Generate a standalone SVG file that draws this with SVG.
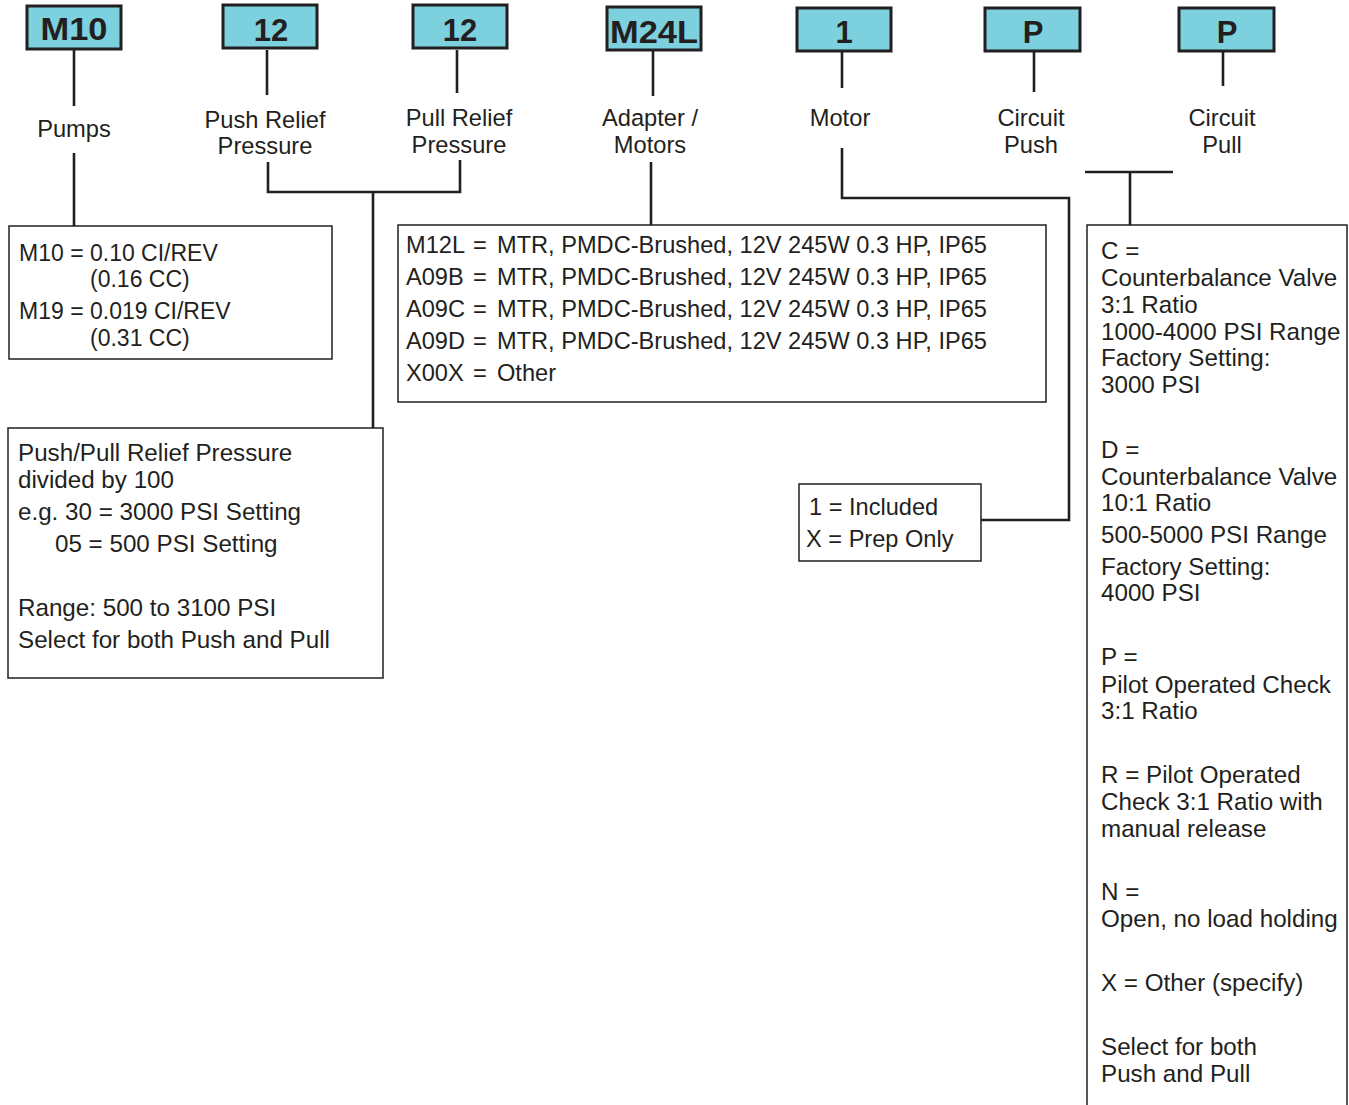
<svg xmlns="http://www.w3.org/2000/svg" width="1349" height="1105" viewBox="0 0 1349 1105">
<style>
.hdr{fill:#7dd0dd;stroke:#231f20;stroke-width:3}
.code{font-family:"Liberation Sans",Arial,sans-serif;font-weight:bold;font-size:31px;fill:#231f20;text-anchor:middle}
.lbl{font-family:"Liberation Sans",Arial,sans-serif;font-size:23.7px;fill:#231f20;text-anchor:middle}
.txt{font-family:"Liberation Sans",Arial,sans-serif;font-size:24.2px;fill:#231f20}
.pm{font-size:23px}
.mt{font-size:23.6px}
.box{fill:#fff;stroke:#231f20;stroke-width:1.5}
.con{fill:none;stroke:#231f20;stroke-width:2.6}
</style>
<rect width="1349" height="1105" fill="#fff"/>
<g id="connectors">
<path class="con" d="M74,49V106M74,153V226"/>
<path class="con" d="M267,50V95M457,50V93M268,162V192H460V160M373,192V428"/>
<path class="con" d="M653,50V96M651,162V226"/>
<path class="con" d="M842,51V88M842,148V198H1069V520H981"/>
<path class="con" d="M1034,51V92M1223,51V86M1085,172H1173M1130,172V225"/>
</g>
<g id="code-pumps">
<rect class="hdr" x="27" y="6" width="94" height="43"/>
<text class="code" x="74" y="40" textLength="67" lengthAdjust="spacingAndGlyphs">M10</text>
<text class="lbl" x="74" y="137">Pumps</text>
</g>
<g id="code-push-relief">
<rect class="hdr" x="223" y="5" width="94" height="43"/>
<text class="code" x="271" y="41">12</text>
<text class="lbl" x="265" y="128">Push Relief</text>
<text class="lbl" x="265" y="154">Pressure</text>
</g>
<g id="code-pull-relief">
<rect class="hdr" x="413" y="5" width="94" height="43"/>
<text class="code" x="460" y="41">12</text>
<text class="lbl" x="459" y="126">Pull Relief</text>
<text class="lbl" x="459" y="153">Pressure</text>
</g>
<g id="code-motors">
<rect class="hdr" x="607" y="7" width="94" height="43"/>
<text class="code" x="654" y="43" textLength="88" lengthAdjust="spacingAndGlyphs">M24L</text>
<text class="lbl" x="650" y="126">Adapter /</text>
<text class="lbl" x="650" y="153">Motors</text>
</g>
<g id="code-motor">
<rect class="hdr" x="797" y="8" width="94" height="43"/>
<text class="code" x="844" y="43">1</text>
<text class="lbl" x="840" y="126">Motor</text>
</g>
<g id="code-circuit-push">
<rect class="hdr" x="985" y="8" width="95" height="43"/>
<text class="code" x="1033" y="43">P</text>
<text class="lbl" x="1031" y="126">Circuit</text>
<text class="lbl" x="1031" y="153">Push</text>
</g>
<g id="code-circuit-pull">
<rect class="hdr" x="1179" y="8" width="95" height="43"/>
<text class="code" x="1227" y="43">P</text>
<text class="lbl" x="1222" y="126">Circuit</text>
<text class="lbl" x="1222" y="153">Pull</text>
</g>
<g id="pumps-box">
<rect class="box" x="9" y="226" width="323" height="133"/>
<text class="txt pm" x="19" y="261">M10 = 0.10 CI/REV</text>
<text class="txt pm" x="90" y="287">(0.16 CC)</text>
<text class="txt pm" x="19" y="319">M19 = 0.019 CI/REV</text>
<text class="txt pm" x="90" y="346">(0.31 CC)</text>
</g>
<g id="relief-box">
<rect class="box" x="8" y="428" width="375" height="250"/>
<text class="txt" x="18" y="461">Push/Pull Relief Pressure</text>
<text class="txt" x="18" y="488">divided by 100</text>
<text class="txt" x="18" y="520">e.g. 30 = 3000 PSI Setting</text>
<text class="txt" x="55" y="552">05 = 500 PSI Setting</text>
<text class="txt" x="18" y="616">Range: 500 to 3100 PSI</text>
<text class="txt" x="18" y="648">Select for both Push and Pull</text>
</g>
<g id="motors-box">
<rect class="box" x="398" y="225" width="648" height="177"/>
<text class="txt mt" x="406" y="253">M12L</text><text class="txt mt" x="473" y="253">=</text><text class="txt mt" x="497" y="253">MTR, PMDC-Brushed, 12V 245W 0.3 HP, IP65</text>
<text class="txt mt" x="406" y="285">A09B</text><text class="txt mt" x="473" y="285">=</text><text class="txt mt" x="497" y="285">MTR, PMDC-Brushed, 12V 245W 0.3 HP, IP65</text>
<text class="txt mt" x="406" y="317">A09C</text><text class="txt mt" x="473" y="317">=</text><text class="txt mt" x="497" y="317">MTR, PMDC-Brushed, 12V 245W 0.3 HP, IP65</text>
<text class="txt mt" x="406" y="349">A09D</text><text class="txt mt" x="473" y="349">=</text><text class="txt mt" x="497" y="349">MTR, PMDC-Brushed, 12V 245W 0.3 HP, IP65</text>
<text class="txt mt" x="406" y="381">X00X</text><text class="txt mt" x="473" y="381">=</text><text class="txt mt" x="497" y="381">Other</text>
</g>
<g id="motor-box">
<rect class="box" x="799" y="484" width="182" height="77"/>
<text class="txt mt" x="809" y="515">1 = Included</text>
<text class="txt mt" x="806" y="547">X = Prep Only</text>
</g>
<g id="circuit-box">
<path class="box" d="M1087,1108V225H1347V1108"/>
<text class="txt" x="1101" y="259">C =</text>
<text class="txt" x="1101" y="286">Counterbalance Valve</text>
<text class="txt" x="1101" y="313">3:1 Ratio</text>
<text class="txt" x="1101" y="340">1000-4000 PSI Range</text>
<text class="txt" x="1101" y="366">Factory Setting:</text>
<text class="txt" x="1101" y="393">3000 PSI</text>
<text class="txt" x="1101" y="458">D =</text>
<text class="txt" x="1101" y="485">Counterbalance Valve</text>
<text class="txt" x="1101" y="511">10:1 Ratio</text>
<text class="txt" x="1101" y="543">500-5000 PSI Range</text>
<text class="txt" x="1101" y="575">Factory Setting:</text>
<text class="txt" x="1101" y="601">4000 PSI</text>
<text class="txt" x="1101" y="665">P =</text>
<text class="txt" x="1101" y="693">Pilot Operated Check</text>
<text class="txt" x="1101" y="719">3:1 Ratio</text>
<text class="txt" x="1101" y="783">R = Pilot Operated</text>
<text class="txt" x="1101" y="810">Check 3:1 Ratio with</text>
<text class="txt" x="1101" y="837">manual release</text>
<text class="txt" x="1101" y="900">N =</text>
<text class="txt" x="1101" y="927">Open, no load holding</text>
<text class="txt" x="1101" y="991">X = Other (specify)</text>
<text class="txt" x="1101" y="1055">Select for both</text>
<text class="txt" x="1101" y="1082">Push and Pull</text>
</g>
</svg>
